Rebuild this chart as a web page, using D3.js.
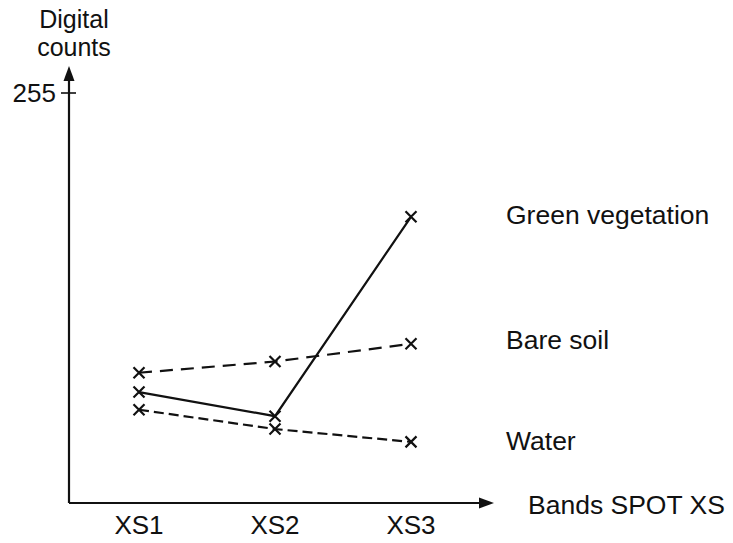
<!DOCTYPE html>
<html><head><meta charset="utf-8">
<script src="https://cdn.jsdelivr.net/npm/d3@7"></script>
<style>html,body{margin:0;padding:0;background:#fff;}svg{display:block;}</style>
</head><body>
<script>
const bands = ["XS1", "XS2", "XS3"];
const greenVegetation = [69, 54, 178];
const bareSoil = [81, 88, 99];
const water = [58, 46, 38];
const yTicks = [255];
const seriesNames = ["Green vegetation", "Bare soil", "Water"];

const W = 733, H = 543;
const svg = d3.select("body").append("svg").attr("width", W).attr("height", H);
const font = "'Liberation Sans', Arial, Helvetica, sans-serif";

const x = d3.scalePoint().domain(bands).range([139, 411]);
const y = d3.scaleLinear().domain([0, 255]).range([503, 93]);
const axisX0 = 69;

// axes
svg.append("line").attr("x1", axisX0).attr("y1", y(0)).attr("x2", axisX0).attr("y2", 80)
  .attr("stroke", "#111").attr("stroke-width", 2.2);
svg.append("path").attr("d", `M${axisX0},66 L${axisX0-5.5},81 L${axisX0+5.5},81 Z`).attr("fill", "#111");
svg.append("line").attr("x1", axisX0).attr("y1", y(0)).attr("x2", 480).attr("y2", y(0))
  .attr("stroke", "#111").attr("stroke-width", 2.2);
svg.append("path").attr("d", `M494,${y(0)} L479,${y(0)-5.5} L479,${y(0)+5.5} Z`).attr("fill", "#111");

// y tick
yTicks.forEach(t => {
  svg.append("line").attr("x1", axisX0 - 8).attr("x2", axisX0 + 7).attr("y1", y(t)).attr("y2", y(t))
    .attr("stroke", "#111").attr("stroke-width", 1.6);
  svg.append("text").attr("x", 56).attr("y", y(t) + 9).attr("text-anchor", "end")
    .attr("font-family", font).attr("font-size", 26).attr("fill", "#111").text(t);
});

// x tick labels
bands.forEach(b => {
  svg.append("text").attr("x", x(b)).attr("y", 534).attr("text-anchor", "middle")
    .attr("font-family", font).attr("font-size", 26).attr("fill", "#111").text(b);
});

// axis titles
svg.append("text").attr("x", 74).attr("y", 28).attr("text-anchor", "middle")
  .attr("font-family", font).attr("font-size", 25).attr("fill", "#111").text("Digital");
svg.append("text").attr("x", 74).attr("y", 56).attr("text-anchor", "middle")
  .attr("font-family", font).attr("font-size", 25).attr("fill", "#111").text("counts");
svg.append("text").attr("x", 528).attr("y", 514)
  .attr("font-family", font).attr("font-size", 26.5).attr("fill", "#111").text("Bands SPOT XS");

// series
const series = [
  {name: seriesNames[0], values: greenVegetation, dash: null, labelY: 224},
  {name: seriesNames[1], values: bareSoil, dash: "13,8", labelY: 349},
  {name: seriesNames[2], values: water, dash: "10,5", labelY: 450}
];
const line = d3.line().x((d, i) => x(bands[i])).y(d => y(d));
series.forEach(s => {
  svg.append("path").attr("d", line(s.values)).attr("fill", "none")
    .attr("stroke", "#111").attr("stroke-width", 2.2)
    .attr("stroke-dasharray", s.dash);
  s.values.forEach((v, i) => {
    const cx = x(bands[i]), cy = y(v), r = 5.5;
    svg.append("path").attr("d", `M${cx-r},${cy-r}L${cx+r},${cy+r}M${cx-r},${cy+r}L${cx+r},${cy-r}`)
      .attr("stroke", "#111").attr("stroke-width", 2.2);
  });
  svg.append("text").attr("x", 506).attr("y", s.labelY)
    .attr("font-family", font).attr("font-size", 26.5).attr("fill", "#111").text(s.name);
});
</script>
</body></html>
